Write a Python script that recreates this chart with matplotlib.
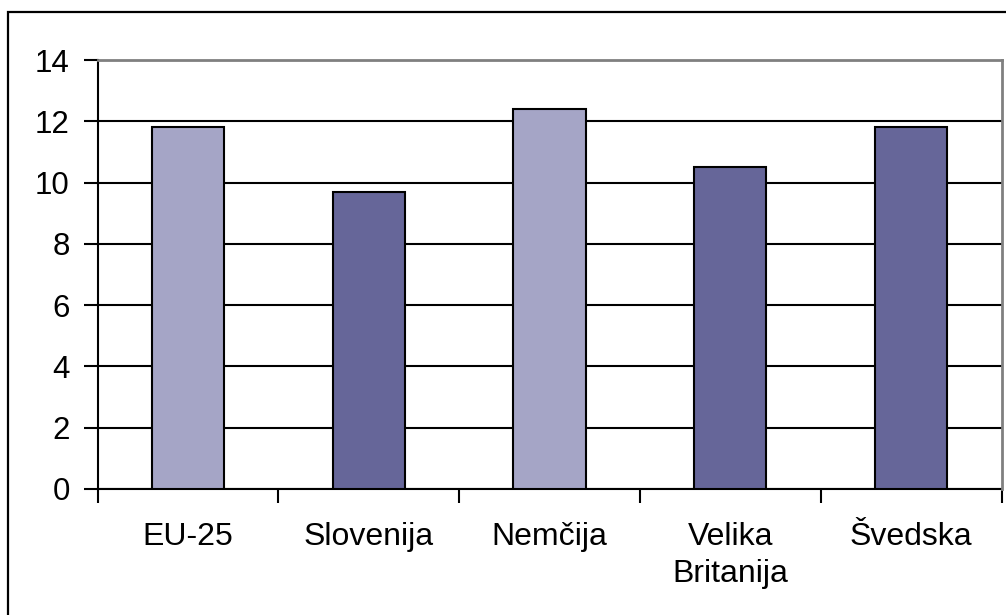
import matplotlib.pyplot as plt
import matplotlib.patches as patches
import numpy as np

plt.rcParams['font.family'] = ['Liberation Sans', 'DejaVu Sans']

countries = ['EU-25', 'Slovenija', 'Nemčija', 'Velika\nBritanija', 'Švedska']
values = [11.8, 9.7, 12.4, 10.5, 11.8]
bar_colors = ['#A5A5C6', '#666699', '#A5A5C6', '#666699', '#666699']
y_ticks = [0, 2, 4, 6, 8, 10, 12, 14]

W, H = 1006, 615
fig = plt.figure(figsize=(W / 100, H / 100), dpi=100)
fig.patch.set_facecolor('white')

# outer chart frame (runs off the right and bottom edges)
frame = patches.Rectangle((8 / W, -0.05), 1.1, 1 - 12 / H + 0.05,
                          transform=fig.transFigure, fill=False,
                          edgecolor='black', linewidth=1.6, clip_on=False)
fig.patches.append(frame)

ax = fig.add_axes([97.5 / W, (H - 489) / H, 904 / W, 429 / H])

x = np.arange(len(countries))
ax.bar(x, values, width=0.4, color=bar_colors, edgecolor='black',
       linewidth=1.5, zorder=3)

ax.set_xlim(-0.5, len(countries) - 0.5)
ax.set_ylim(0, 14)

# horizontal gridlines
ax.set_yticks(y_ticks)
ax.set_yticklabels([str(t) for t in y_ticks], fontsize=22.5)
ax.yaxis.grid(True, color='black', linewidth=1.5)
ax.set_axisbelow(True)
ax.tick_params(axis='y', direction='out', length=10, width=1.5, pad=10)

# category boundary ticks, labels centred between them
ax.set_xticks(np.arange(-0.5, len(countries), 1))
ax.set_xticklabels([])
ax.set_xticks(x, minor=True)
ax.set_xticklabels(countries, minor=True, fontsize=23, linespacing=1.3)
ax.tick_params(axis='x', which='major', direction='out', length=10, width=1.5)
ax.tick_params(axis='x', which='minor', length=0, pad=24)

for side in ['left', 'bottom']:
    ax.spines[side].set_color('black')
    ax.spines[side].set_linewidth(1.5)
for side in ['top', 'right']:
    ax.spines[side].set_color('#808080')
    ax.spines[side].set_linewidth(2)
    ax.spines[side].set_zorder(4)

fig.savefig('out.png', dpi=100, facecolor='white')
